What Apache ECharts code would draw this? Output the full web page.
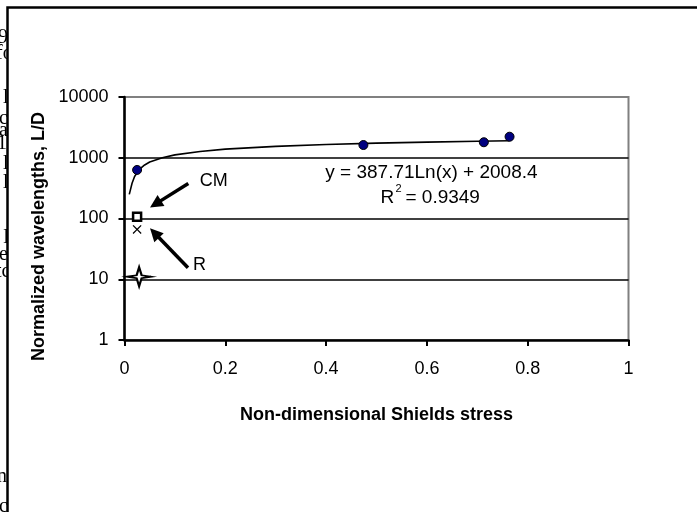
<!DOCTYPE html>
<html>
<head>
<meta charset="utf-8">
<script src="https://cdn.jsdelivr.net/npm/echarts@6/dist/echarts.min.js"></script>
<style>
html,body{margin:0;padding:0;background:#fff;}
#chart{width:697px;height:512px;}
</style>
</head>
<body>
<div id="chart"></div>
<script>
// Measured data (blue circles)
var dataX = [0.025, 0.474, 0.713, 0.764];
var dataY = [630, 1620, 1800, 2220];
// Logarithmic trendline
var trendX = [0.0095, 0.015, 0.02, 0.03, 0.04, 0.05, 0.075, 0.1, 0.15, 0.2, 0.3, 0.4, 0.5, 0.6, 0.7, 0.764];
var trendY = [250, 380, 490, 650, 760, 850, 1000, 1115, 1270, 1385, 1540, 1650, 1740, 1810, 1870, 1905];
// Single points
var cmPoint = [0.025, 107];
var rPoint = [0.025, 66];
var starPoint = [0.029, 11];
// Axis ticks
var xTicks = [0, 0.2, 0.4, 0.6, 0.8, 1];
var yTicks = [1, 10, 100, 1000, 10000];
// Texts
var xTitle = 'Non-dimensional Shields stress';
var yTitle = 'Normalized wavelengths, L/D';
var eqText = 'y = 387.71Ln(x) + 2008.4';
var r2Text = '= 0.9349';
// Cut-off words of the document behind the chart: [text, line centre, start offset]
var fragText = ['9', 'fo', 'l', 'c', 'a', '1', 'l', 'l', 'I', 'e', 'tc', 'n', 'c'];
var fragLine = [38, 54, 98, 119, 131, 144, 164, 183, 238, 255, 272, 477, 507];
var fragStart = [-2, -4, 3, -1, -1, -3, 3, 3, 3, -1, -4, -3, -1];

var FONT = "'Liberation Sans', Arial, sans-serif";
var chart = echarts.init(document.getElementById('chart'), null, {renderer: 'canvas'});

function zip(a, b) { return a.map(function (v, i) { return [v, b[i]]; }); }

var graphics = [];
fragText.forEach(function (t, i) {
  graphics.push({type: 'text', z: -5, x: fragStart[i], y: fragLine[i], style: {text: t, font: "20px 'Liberation Serif', 'Times New Roman', serif", fill: '#000', align: 'left', verticalAlign: 'middle'}});
});
graphics.push({type: 'rect', z: -4, shape: {x: 7.5, y: 7.5, width: 720, height: 540}, style: {fill: '#fff', stroke: '#000', lineWidth: 2.5}});

var option = {
  animation: false,
  backgroundColor: '#fff',
  grid: {left: 124.5, top: 97, width: 504, height: 243, show: true, borderColor: '#808080', borderWidth: 2, backgroundColor: 'transparent'},
  xAxis: {
    type: 'value', min: 0, max: 1, interval: 0.2,
    axisLine: {show: true, lineStyle: {color: '#000', width: 2.5}},
    axisTick: {show: true, length: 6, lineStyle: {color: '#000', width: 2}},
    axisLabel: {color: '#000', fontSize: 18, fontFamily: FONT, margin: 20,
      formatter: function (v) { return xTicks.indexOf(v) >= 0 ? String(v) : ''; }},
    splitLine: {show: false},
    name: xTitle, nameLocation: 'middle', nameGap: 66,
    nameTextStyle: {color: '#000', fontSize: 18, fontWeight: 'bold', fontFamily: FONT}
  },
  yAxis: {
    type: 'log', logBase: 10, min: 1, max: 10000,
    axisLine: {show: true, lineStyle: {color: '#000', width: 2.5}},
    axisTick: {show: true, length: 6, lineStyle: {color: '#000', width: 2}},
    axisLabel: {color: '#000', fontSize: 18, fontFamily: FONT, margin: 16,
      formatter: function (v) { return yTicks.indexOf(Math.round(v)) >= 0 ? String(Math.round(v)) : ''; }},
    splitLine: {show: true, showMinLine: false, showMaxLine: false, lineStyle: {color: '#000', width: 1.5}},
    name: yTitle, nameLocation: 'middle', nameGap: 62,
    nameTextStyle: {color: '#000', fontSize: 18, fontWeight: 'bold', fontFamily: FONT, padding: [0, 0, 0, -36]}
  },
  graphic: graphics,
  series: [
    {type: 'line', data: zip(trendX, trendY), showSymbol: false, symbol: 'none', smooth: false,
      lineStyle: {color: '#000', width: 1.6}, z: 3},
    {type: 'scatter', data: zip(dataX, dataY), symbol: 'circle', symbolSize: 9,
      itemStyle: {color: '#000080', borderColor: '#000', borderWidth: 1, opacity: 1}, z: 4},
    {type: 'scatter', data: [cmPoint], symbol: 'rect', symbolSize: 8,
      itemStyle: {color: '#fff', borderColor: '#000', borderWidth: 2.5, opacity: 1}, z: 4},
    {type: 'scatter', data: [rPoint], symbol: 'path://M0,1L1,0L5,4L9,0L10,1L6,5L10,9L9,10L5,6L1,10L0,9L4,5Z', symbolSize: 9,
      itemStyle: {color: '#000', opacity: 1}, z: 4},
    {type: 'scatter', data: [starPoint], symbol: 'path://M0,10L9.5,8.5L12,0L14.5,8.5L24,10L14.5,11.5L12,20L9.5,11.5Z', symbolSize: [24, 19],
      itemStyle: {color: '#fff', borderColor: '#000', borderWidth: 2, opacity: 1}, z: 4}
  ]
};
chart.setOption(option);

// Annotations positioned in data coordinates through the chart's scales
function px(p) { return chart.convertToPixel({gridIndex: 0}, p); }
var cmTail = px([0.1266, 377]), cmHead = px([0.0506, 152]);
var rTail = px([0.126, 15.5]), rHead = px([0.0506, 69]);
var cmLab = px([0.177, 409]), rLab = px([0.149, 17]);
var eqPos = px([0.609, 556]), r2Pos = px([0.609, 221]);

function arrow(t, h) {
  var dx = h[0] - t[0], dy = h[1] - t[1];
  var L = Math.sqrt(dx * dx + dy * dy), ux = dx / L, uy = dy / L;
  var hl = 13, hw = 6.5;
  var bx = h[0] - ux * hl, by = h[1] - uy * hl;
  return [
    {type: 'line', z: 10, shape: {x1: t[0], y1: t[1], x2: bx + ux * 2, y2: by + uy * 2}, style: {stroke: '#000', lineWidth: 3.5}},
    {type: 'polygon', z: 10, shape: {points: [[h[0], h[1]], [bx - uy * hw, by + ux * hw], [bx + uy * hw, by - ux * hw]]}, style: {fill: '#000'}}
  ];
}
var ann = graphics.slice();
ann = ann.concat(arrow(cmTail, cmHead), arrow(rTail, rHead));
ann.push({type: 'text', z: 10, x: cmLab[0], y: cmLab[1], style: {text: 'CM', font: '18px ' + FONT, fill: '#000', align: 'center', verticalAlign: 'middle'}});
ann.push({type: 'text', z: 10, x: rLab[0], y: rLab[1], style: {text: 'R', font: '18px ' + FONT, fill: '#000', align: 'center', verticalAlign: 'middle'}});
ann.push({type: 'text', z: 10, x: eqPos[0], y: eqPos[1], style: {text: eqText, font: '19px ' + FONT, fill: '#000', align: 'center', verticalAlign: 'middle'}});
ann.push({type: 'text', z: 10, x: r2Pos[0] - 44, y: r2Pos[1], style: {text: 'R', font: '19px ' + FONT, fill: '#000', align: 'center', verticalAlign: 'middle'}});
ann.push({type: 'text', z: 10, x: r2Pos[0] - 33, y: r2Pos[1] - 9, style: {text: '2', font: '11px ' + FONT, fill: '#000', align: 'center', verticalAlign: 'middle'}});
ann.push({type: 'text', z: 10, x: r2Pos[0] - 26, y: r2Pos[1], style: {text: r2Text, font: '19px ' + FONT, fill: '#000', align: 'left', verticalAlign: 'middle'}});
chart.setOption({graphic: ann});
</script>
</body>
</html>
